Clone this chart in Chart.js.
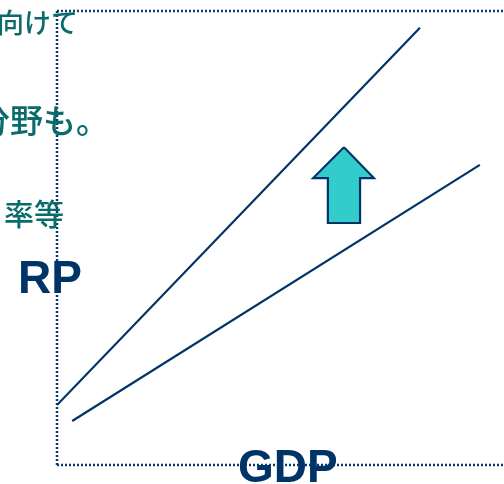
<!DOCTYPE html>
<html>
<head>
<meta charset="utf-8">
<script src="https://cdn.jsdelivr.net/npm/chart.js@4"></script>
<style>
html,body{margin:0;padding:0;background:#fff;overflow:hidden;}
#wrap{width:504px;height:484px;position:relative;}
</style>
</head>
<body>
<div id="wrap"><canvas id="c" width="504" height="484"></canvas></div>
<script>
// Axis labels and slide text
const xTitle = "GDP";
const yTitle = "RP";
const slideLines = ["向けて", "分野も。", "率等"];

// Line "before" (lower) and "after" (steeper), in GDP (x) / RP (y) units 0-100
const lineLowX = [3.4, 94.6];
const lineLowY = [9.7, 66.1];
const lineHighX = [0, 81.2];
const lineHighY = [13.2, 96.3];

// Upward arrow outline (x, y) in the same units
const arrowX = [64.2, 70.9, 67.8, 67.8, 60.6, 60.6, 57.3, 64.2];
const arrowY = [70.0, 63.2, 63.2, 53.3, 53.3, 63.2, 63.2, 70.0];

const NAVY = "#003366";
const TEAL_TXT = "#0A6B6B";
const ARROW_FILL = "#33CCCC";

const pts = (xs, ys) => xs.map((x, i) => ({x: x, y: ys[i]}));

// Dotted frame along the left, top and bottom edges of the plot area
const framePlugin = {
  id: "dottedFrame",
  beforeDatasetsDraw(chart) {
    const ctx = chart.ctx;
    const a = chart.chartArea;
    ctx.save();
    ctx.strokeStyle = "#0B3A6E";
    ctx.lineWidth = 2.5;
    ctx.setLineDash([2, 2]);
    ctx.beginPath();
    ctx.moveTo(a.left, a.top); ctx.lineTo(a.right, a.top);
    ctx.moveTo(a.left, a.top); ctx.lineTo(a.left, a.bottom);
    ctx.moveTo(a.left, a.bottom); ctx.lineTo(a.right, a.bottom);
    ctx.stroke();
    ctx.restore();
  }
};

const textPlugin = {
  id: "slideText",
  afterDraw(chart) {
    const ctx = chart.ctx;
    const a = chart.chartArea;
    ctx.save();
    ctx.textBaseline = "alphabetic";
    ctx.textAlign = "left";
    ctx.fillStyle = TEAL_TXT;
    ctx.font = '500 27px "Noto Sans CJK JP"';
    ctx.fillText(slideLines[0], a.left - 60, a.top + 22);
    ctx.font = '500 33px "Noto Sans CJK JP"';
    ctx.fillText(slideLines[1], a.left - 80, a.top + 122);
    ctx.font = '500 30px "Noto Sans CJK JP"';
    ctx.fillText(slideLines[2], a.left - 53, a.top + 214);
    ctx.fillStyle = NAVY;
    ctx.font = 'bold 46px "Liberation Sans", Arial, sans-serif';
    ctx.fillText(yTitle, a.left - 39, a.top + 282);
    ctx.fillText(xTitle, a.left + 181, a.bottom + 17);
    ctx.restore();
  }
};

new Chart(document.getElementById("c"), {
  type: "scatter",
  data: {
    datasets: [
      {data: pts(lineHighX, lineHighY), showLine: true, borderColor: NAVY, borderWidth: 2.2, pointRadius: 0, fill: false},
      {data: pts(lineLowX, lineLowY), showLine: true, borderColor: NAVY, borderWidth: 2.2, pointRadius: 0, fill: false},
      {data: pts(arrowX, arrowY), showLine: true, borderColor: NAVY, borderWidth: 2.2, pointRadius: 0,
       backgroundColor: ARROW_FILL, fill: "shape", tension: 0}
    ]
  },
  options: {
    responsive: false,
    animation: false,
    layout: {padding: {left: 57, top: 11, right: 0, bottom: 19}},
    plugins: {legend: {display: false}, tooltip: {enabled: false}},
    scales: {
      x: {type: "linear", min: 0, max: 100, position: "bottom",
          ticks: {display: false}, grid: {display: false, drawTicks: false},
          border: {display: false}},
      y: {type: "linear", min: 0, max: 100, position: "left",
          ticks: {display: false}, grid: {display: false, drawTicks: false},
          border: {display: false}}
    }
  },
  plugins: [framePlugin, textPlugin]
});
</script>
</body>
</html>
